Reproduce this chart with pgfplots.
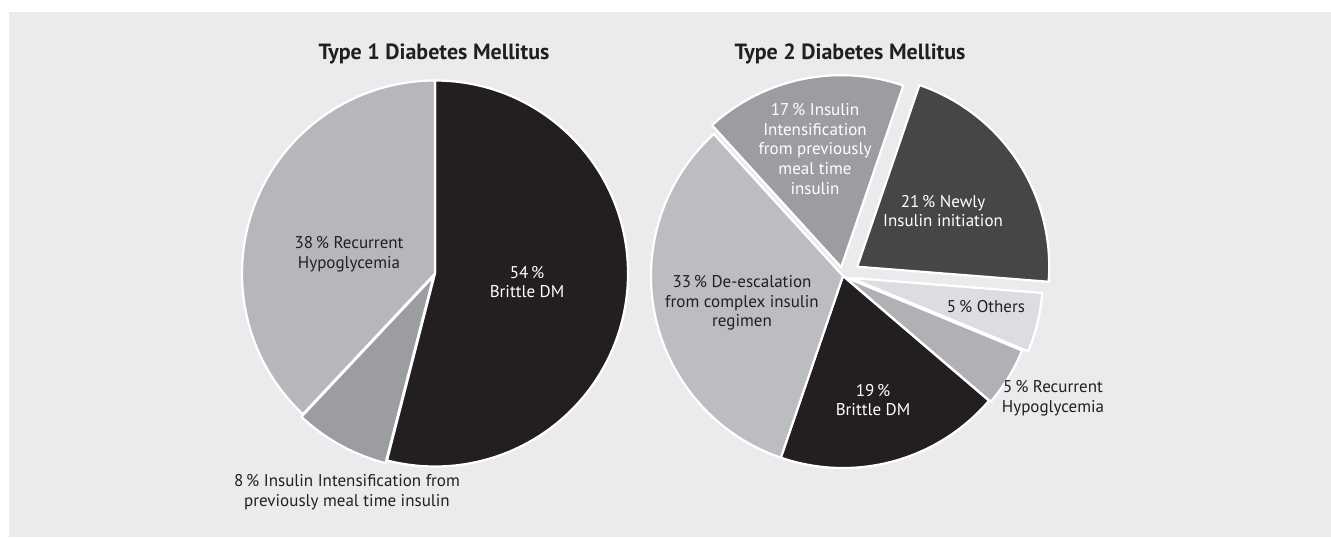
\documentclass[border=0pt]{standalone}
\usepackage{pgfplots}
\pgfplotsset{compat=1.18}
\usepackage{fontspec}
\setmainfont{PT Sans}

\definecolor{panel}{HTML}{EBEBED}
\definecolor{ink}{HTML}{231F20}
\definecolor{gA}{HTML}{B6B7BA}
\definecolor{gB}{HTML}{9C9DA0}
\definecolor{gC}{HTML}{464649}
\definecolor{gD}{HTML}{DCDDE0}
\definecolor{gE}{HTML}{B0B1B4}
\definecolor{gF}{HTML}{BCBDC0}

\tikzset{
  lbl/.style={inner sep=0pt, align=center, font=\fontsize{8.5}{9.8}\selectfont},
  ttl/.style={inner sep=0pt, text=ink, font=\fontsize{11}{13}\selectfont\bfseries},
}

% one drawing unit = one pixel of the figure
\newlength\px \setlength\px{0.5pt}

% running start angle of the next slice (clockwise from the top)
\def\pieangle{90}
\newcommand\startpie[1]{\xdef\pieangle{#1}}
% centre x, centre y, radius, share in %, pull-out, fill colour
\newcommand\slice[6]{%
  \pgfmathsetmacro\sa{\pieangle}%
  \pgfmathsetmacro\se{\pieangle-3.6*#4}%
  \pgfmathsetmacro\sm{(\sa+\se)/2}%
  \fill[#6, draw=white, line width=1.1pt, line join=round]
    (axis cs:#1,#2) ++(\sm:#5*\px) -- ++(\sa:#3*\px)
    arc[start angle=\sa, end angle=\se, radius=#3*\px] -- cycle;
  \xdef\pieangle{\se}}

\begin{document}
\begin{tikzpicture}
\begin{axis}[
  width=665.5pt, height=268.5pt, scale only axis,
  xmin=0, xmax=1331, ymin=0, ymax=537, y dir=reverse,
  hide axis, clip=false,
]
\pgfplotsextra{
  \fill[white] (axis cs:0,0) rectangle (axis cs:1331,537);
  \fill[panel] (axis cs:9,12) rectangle (axis cs:1331,537);
  % Type 1
  \startpie{90}
  \slice{435}{273.5}{193}{54}{0}{ink}
  \slice{435}{273.5}{193}{8}{3}{gB}
  \slice{435}{273.5}{193}{38}{0}{gA}
  % Type 2
  \startpie{71.1}
  \slice{843}{276}{192}{21}{17}{gC}
  \slice{843}{276}{192}{5}{8}{gD}
  \slice{843}{276}{192}{5}{2}{gE}
  \slice{843}{276}{192}{19}{0}{ink}
  \slice{843}{276}{192}{33}{0}{gF}
  \slice{843}{276}{192}{17}{9}{gB}
}
\coordinate (pageSW) at (axis cs:0,537);
\coordinate (pageNE) at (axis cs:1331,0);

\node[ttl] at (axis cs:434,54) {Type 1 Diabetes Mellitus};
\node[ttl] at (axis cs:850,54) {Type 2 Diabetes Mellitus};

\node[lbl, text=ink] at (axis cs:349,254) {38\,\% Recurrent\\Hypoglycemia};
\node[lbl, text=white] at (axis cs:527,282) {54\,\%\\Brittle DM};
\node[lbl, text=ink] at (axis cs:347,492) {8\,\% Insulin Intensification from\\previously meal time insulin};

\node[lbl, text=white] at (axis cs:815,149) {17\,\% Insulin\\Intensification\\from previously\\meal time\\insulin};
\node[lbl, text=white] at (axis cs:943,211) {21\,\% Newly\\Insulin initiation};
\node[lbl, text=ink] at (axis cs:742,303) {33\,\% De-escalation\\from complex insulin\\regimen};
\node[lbl, text=white] at (axis cs:873,400) {19\,\%\\Brittle DM};
\node[lbl, text=ink] at (axis cs:986,307) {5\,\% Others};
\node[lbl, text=ink] at (axis cs:1053,398) {5\,\% Recurrent\\Hypoglycemia};
\end{axis}
\pgfresetboundingbox
\path[use as bounding box] (pageSW) rectangle (pageNE);
\end{tikzpicture}
\end{document}
